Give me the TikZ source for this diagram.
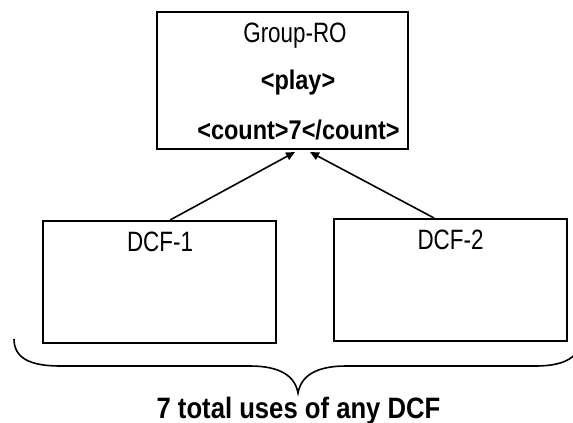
\documentclass[tikz,border=0pt]{standalone}
\usepackage{fontspec}
\setmainfont{Liberation Sans}
\newfontfamily\narrowreg[FakeStretch=0.8]{Liberation Sans}
\newfontfamily\narrowbold[FakeStretch=0.87]{Liberation Sans Bold}
\usetikzlibrary{arrows.meta,calc}
\begin{document}
\begin{tikzpicture}[x=1pt,y=-1pt,
  boxstyle/.style={draw, line width=2pt, inner sep=0pt},
  regtext/.style={font=\narrowreg\fontsize{28}{32}\selectfont, anchor=base, inner sep=0pt},
  boldtext/.style={font=\narrowbold\fontsize{27}{31}\selectfont, anchor=base, inner sep=0pt},
  bigtext/.style={font=\narrowbold\fontsize{29.5}{34}\selectfont, anchor=base, inner sep=0pt},
  arr/.style={line width=1.6pt, -{Triangle[length=9pt,width=8pt]}},
  bracestyle/.style={line width=1.6pt}]
\useasboundingbox (0,0) rectangle (573,423);
% boxes
\node[boxstyle, minimum width=251pt, minimum height=137pt] (ro) at (282.5,80.5) {};
\node[boxstyle, minimum width=233pt, minimum height=122pt] (d1) at (159.5,282) {};
\node[boxstyle, minimum width=233pt, minimum height=122pt] (d2) at (450.5,280) {};
% texts
\node[regtext] (rot) at (295,42) {Group-RO};
\node[boldtext] (play) at (298,89) {<play>};
\node[boldtext] (cnt) at (298.5,139) {<count>7</count>};
\node[regtext] (d1t) at (160,251) {DCF-1};
\node[regtext] (d2t) at (450.5,249) {DCF-2};
\node[bigtext] (total) at (298.5,418) {7 total uses of any DCF};
% connectors
\coordinate (s1) at ($(d1.north west)!0.545!(d1.north east)$);
\coordinate (s2) at ($(d2.north west)!0.43!(d2.north east)$);
\coordinate (e1) at (295,152);
\coordinate (e2) at (310,152);
\draw[arr] (s1) -- (e1);
\draw[arr] (s2) -- (e2);
% brace
\coordinate (bl) at (14,339);
\coordinate (br) at (582,339);
\coordinate (bt) at (298,393);
\draw[bracestyle] (bl) .. controls (14,358) and (30,366) .. (60,366)
  -- (250,366) .. controls (280,366) and (295,376) .. (bt)
  .. controls (301,376) and (316,366) .. (346,366)
  -- (536,366) .. controls (566,366) and (580,356) .. (br);
\end{tikzpicture}
\end{document}
